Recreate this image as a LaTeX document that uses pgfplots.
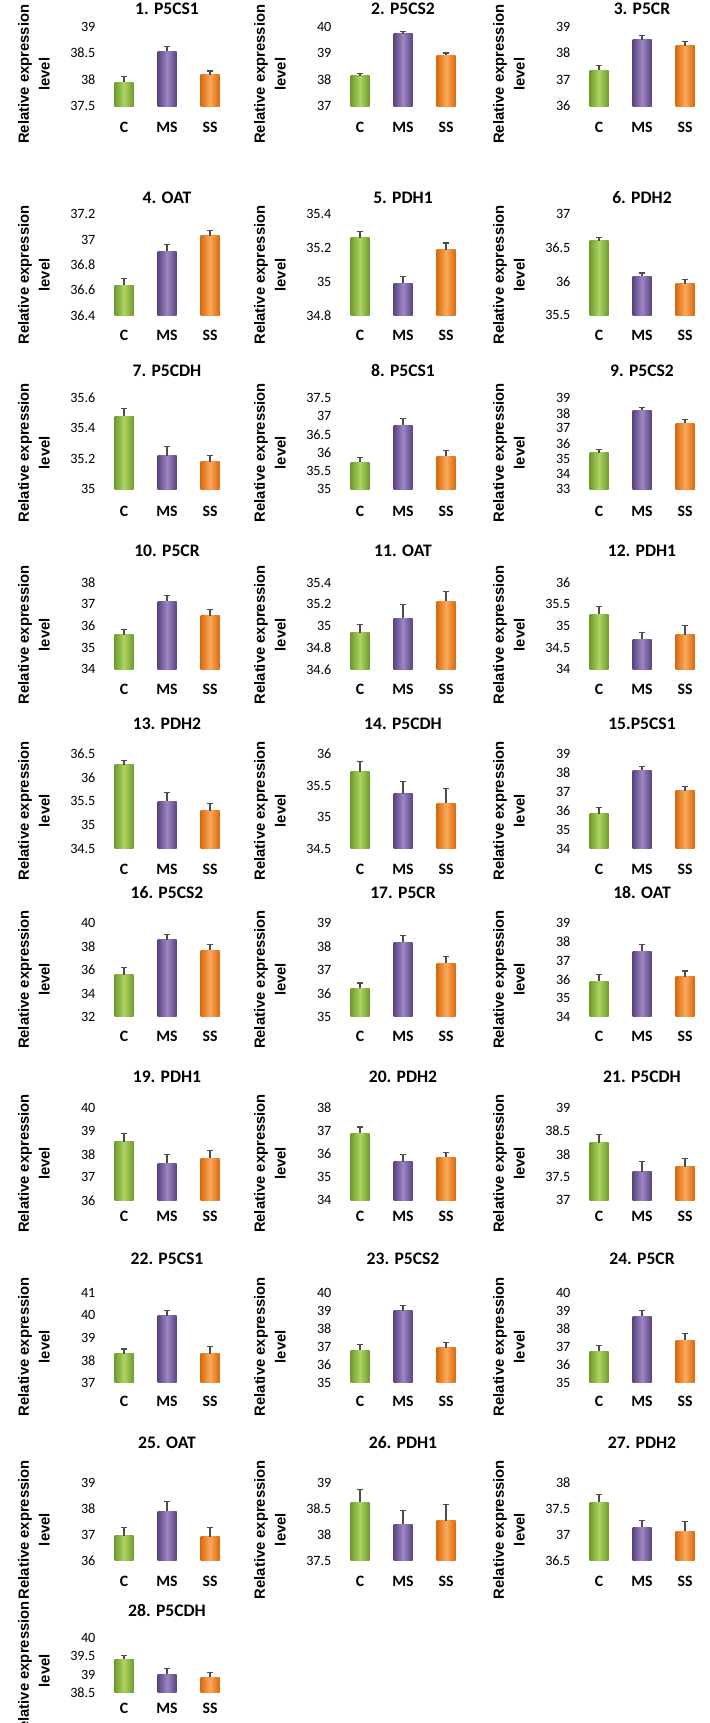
\documentclass[border=0pt]{standalone}
\usepackage{pgfplots}
\pgfplotsset{compat=1.18}
\usepackage{fontspec}
\setmainfont{Carlito}
\newfontfamily\arialfont{Liberation Sans}
\definecolor{gD}{HTML}{6F9B2C}
\definecolor{gL}{HTML}{AED465}
\definecolor{pD}{HTML}{5B4380}
\definecolor{pL}{HTML}{9E86C4}
\definecolor{oD}{HTML}{D9690C}
\definecolor{oL}{HTML}{FBAA5C}
\pgfplotsset{
 every axis title shift=0pt,
 barbase/.style={ybar, bar shift=0pt, bar width=9.5pt, draw=none,
   /pgfplots/error bars/y dir=plus, /pgfplots/error bars/y explicit,
   /pgfplots/error bars/error bar style={line width=0.55pt, draw=black!70},
   /pgfplots/error bars/error mark options={rotate=90, mark size=1.7pt, line width=0.55pt, draw=black!70}},
 barC/.style={left color=gD, right color=gD, middle color=gL, barbase},
 barM/.style={left color=pD, right color=pD, middle color=pL, barbase},
 barS/.style={left color=oD, right color=oD, middle color=oL, barbase},
 panel/.style={scale only axis, width=64.5pt, anchor=south west,
   axis line style={draw=none}, major tick length=0pt, tick style={draw=none},
   xmin=-0.5, xmax=2.5, xtick={0,1,2}, xticklabels={C,MS,SS},
   enlargelimits=false,
   xticklabel style={font=\fontsize{7.9}{9}\selectfont\bfseries, anchor=center},
   yticklabel style={font=\fontsize{7.1}{8}\selectfont, /pgf/number format/fixed, /pgf/number format/assume math mode=true},
   title style={font=\fontsize{8.8}{10}\selectfont\bfseries, at={(axis description cs:0.5,1)}, anchor=center},
   ylabel={Relative expression\\level},
   every axis y label/.style={at={(axis description cs:-0.531,0.40)}, rotate=90, anchor=center, align=center, font=\arialfont\bfseries\fontsize{7.4}{10.3}\selectfont},
 },
 row1/.style={height=39.75pt, title style={yshift=8.75pt}, xticklabel style={yshift=-10.5pt}},
 row2/.style={height=50.5pt, title style={yshift=8.2pt}, xticklabel style={yshift=-10pt}},
 row3/.style={height=45.6pt, title style={yshift=13.7pt}, xticklabel style={yshift=-11pt}},
 row4/.style={height=43.4pt, title style={yshift=16pt}, xticklabel style={yshift=-10pt}},
 row5/.style={height=47.3pt, title style={yshift=15pt}, xticklabel style={yshift=-10.5pt}},
 row6/.style={height=46.7pt, title style={yshift=15.4pt}, xticklabel style={yshift=-10pt}},
 row7/.style={height=46.2pt, title style={yshift=15.4pt}, xticklabel style={yshift=-8pt}},
 row8/.style={height=45.1pt, title style={yshift=17pt}, xticklabel style={yshift=-9.3pt}},
 row9/.style={height=39.0pt, title style={yshift=20pt}, xticklabel style={yshift=-10.5pt}},
 row10/.style={height=27.5pt, title style={yshift=13.7pt}, xticklabel style={yshift=-8pt}},
}
\newcommand\bars[6]{%
\addplot[barC] coordinates {(0,#1) +- (0,#2)};
\addplot[barM] coordinates {(1,#3) +- (0,#4)};
\addplot[barS] coordinates {(2,#5) +- (0,#6)};}
\begin{document}
\begin{tikzpicture}
\useasboundingbox (0,0) rectangle (354.5pt,-861.5pt);
% Row 1
\begin{axis}[panel,row1,at={(51.25pt,-53pt)},title={1. P5CS1},ymin=37.5,ymax=39,ytick={37.5,38,38.5,39}]
\bars{37.95}{0.10}{38.53}{0.10}{38.09}{0.07}
\end{axis}
\begin{axis}[panel,row1,at={(169.25pt,-53pt)},title={2. P5CS2},ymin=37,ymax=40,ytick={37,38,39,40}]
\bars{38.14}{0.10}{39.72}{0.08}{38.92}{0.08}
\end{axis}
\begin{axis}[panel,row1,at={(288.75pt,-53pt)},title={3. P5CR},ymin=36,ymax=39,ytick={36,37,38,39}]
\bars{37.35}{0.18}{38.50}{0.15}{38.28}{0.17}
\end{axis}
% Row 2
\begin{axis}[panel,row2,at={(51.25pt,-157.7pt)},title={4. OAT},ymin=36.4,ymax=37.2,ytick={36.4,36.6,36.8,37,37.2}]
\bars{36.64}{0.05}{36.91}{0.05}{37.03}{0.04}
\end{axis}
\begin{axis}[panel,row2,at={(169.25pt,-157.7pt)},title={5. PDH1},ymin=34.8,ymax=35.4,ytick={34.8,35,35.2,35.4}]
\bars{35.26}{0.04}{34.99}{0.04}{35.19}{0.04}
\end{axis}
\begin{axis}[panel,row2,at={(288.75pt,-157.7pt)},title={6. PDH2},ymin=35.5,ymax=37,ytick={35.5,36,36.5,37}]
\bars{36.61}{0.05}{36.08}{0.05}{35.97}{0.06}
\end{axis}
% Row 3
\begin{axis}[panel,row3,at={(51.25pt,-244.6pt)},title={7. P5CDH},ymin=35,ymax=35.6,ytick={35,35.2,35.4,35.6}]
\bars{35.48}{0.05}{35.22}{0.06}{35.18}{0.04}
\end{axis}
\begin{axis}[panel,row3,at={(169.25pt,-244.6pt)},title={8. P5CS1},ymin=35,ymax=37.5,ytick={35,35.5,36,36.5,37,37.5}]
\bars{35.74}{0.12}{36.75}{0.18}{35.90}{0.17}
\end{axis}
\begin{axis}[panel,row3,at={(288.75pt,-244.6pt)},title={9. P5CS2},ymin=33,ymax=39,ytick={33,34,35,36,37,38,39}]
\bars{35.40}{0.20}{38.20}{0.20}{37.35}{0.25}
\end{axis}
% Row 4
\begin{axis}[panel,row4,at={(51.25pt,-334.7pt)},title={10. P5CR},ymin=34,ymax=38,ytick={34,35,36,37,38}]
\bars{35.60}{0.25}{37.15}{0.25}{36.48}{0.28}
\end{axis}
\begin{axis}[panel,row4,at={(169.25pt,-334.7pt)},title={11. OAT},ymin=34.6,ymax=35.4,ytick={34.6,34.8,35,35.2,35.4}]
\bars{34.94}{0.07}{35.07}{0.13}{35.23}{0.09}
\end{axis}
\begin{axis}[panel,row4,at={(288.75pt,-334.7pt)},title={12. PDH1},ymin=34,ymax=36,ytick={34,34.5,35,35.5,36}]
\bars{35.27}{0.18}{34.69}{0.17}{34.80}{0.22}
\end{axis}
% Row 5
\begin{axis}[panel,row5,at={(51.25pt,-424.3pt)},title={13. PDH2},ymin=34.5,ymax=36.5,ytick={34.5,35,35.5,36,36.5}]
\bars{36.27}{0.10}{35.50}{0.18}{35.30}{0.15}
\end{axis}
\begin{axis}[panel,row5,at={(169.25pt,-424.3pt)},title={14. P5CDH},ymin=34.5,ymax=36,ytick={34.5,35,35.5,36}]
\bars{35.72}{0.16}{35.37}{0.20}{35.22}{0.24}
\end{axis}
\begin{axis}[panel,row5,at={(288.75pt,-424.3pt)},title={15.P5CS1},ymin=34,ymax=39,ytick={34,35,36,37,38,39}]
\bars{35.85}{0.30}{38.15}{0.20}{37.05}{0.25}
\end{axis}
% Row 6
\begin{axis}[panel,row6,at={(51.25pt,-508.4pt)},title={16. P5CS2},ymin=32,ymax=40,ytick={32,34,36,38,40}]
\bars{35.60}{0.60}{38.60}{0.45}{37.70}{0.50}
\end{axis}
\begin{axis}[panel,row6,at={(169.25pt,-508.4pt)},title={17. P5CR},ymin=35,ymax=39,ytick={35,36,37,38,39}]
\bars{36.22}{0.23}{38.20}{0.27}{37.30}{0.30}
\end{axis}
\begin{axis}[panel,row6,at={(288.75pt,-508.4pt)},title={18. OAT},ymin=34,ymax=39,ytick={34,35,36,37,38,39}]
\bars{35.90}{0.35}{37.50}{0.38}{36.15}{0.30}
\end{axis}
% Row 7
\begin{axis}[panel,row7,at={(51.25pt,-600.2pt)},title={19. PDH1},ymin=36,ymax=40,ytick={36,37,38,39,40}]
\bars{38.55}{0.35}{37.60}{0.38}{37.83}{0.33}
\end{axis}
\begin{axis}[panel,row7,at={(169.25pt,-600.2pt)},title={20. PDH2},ymin=34,ymax=38,ytick={34,35,36,37,38}]
\bars{36.90}{0.28}{35.67}{0.30}{35.87}{0.22}
\end{axis}
\begin{axis}[panel,row7,at={(288.75pt,-600.2pt)},title={21. P5CDH},ymin=37,ymax=39,ytick={37,37.5,38,38.5,39}]
\bars{38.25}{0.18}{37.62}{0.23}{37.73}{0.17}
\end{axis}
% Row 8
\begin{axis}[panel,row8,at={(51.25pt,-691.4pt)},title={22. P5CS1},ymin=37,ymax=41,ytick={37,38,39,40,41}]
\bars{38.30}{0.20}{39.97}{0.23}{38.30}{0.30}
\end{axis}
\begin{axis}[panel,row8,at={(169.25pt,-691.4pt)},title={23. P5CS2},ymin=35,ymax=40,ytick={35,36,37,38,39,40}]
\bars{36.80}{0.30}{39.00}{0.30}{36.95}{0.28}
\end{axis}
\begin{axis}[panel,row8,at={(288.75pt,-691.4pt)},title={24. P5CR},ymin=35,ymax=40,ytick={35,36,37,38,39,40}]
\bars{36.75}{0.30}{38.70}{0.30}{37.35}{0.40}
\end{axis}
% Row 9
\begin{axis}[panel,row9,at={(51.25pt,-780.4pt)},title={25. OAT},ymin=36,ymax=39,ytick={36,37,38,39}]
\bars{36.97}{0.30}{37.90}{0.37}{36.92}{0.35}
\end{axis}
\begin{axis}[panel,row9,at={(169.25pt,-780.4pt)},title={26. PDH1},ymin=37.5,ymax=39,ytick={37.5,38,38.5,39}]
\bars{38.63}{0.24}{38.20}{0.27}{38.27}{0.31}
\end{axis}
\begin{axis}[panel,row9,at={(288.75pt,-780.4pt)},title={27. PDH2},ymin=36.5,ymax=38,ytick={36.5,37,37.5,38}]
\bars{37.63}{0.15}{37.15}{0.12}{37.07}{0.18}
\end{axis}
% Row 10
\begin{axis}[panel,row10,at={(51.25pt,-846.4pt)},title={28. P5CDH},ymin=38.5,ymax=40,ytick={38.5,39,39.5,40}]
\bars{39.42}{0.11}{39.00}{0.17}{38.93}{0.12}
\end{axis}
\end{tikzpicture}
\end{document}
